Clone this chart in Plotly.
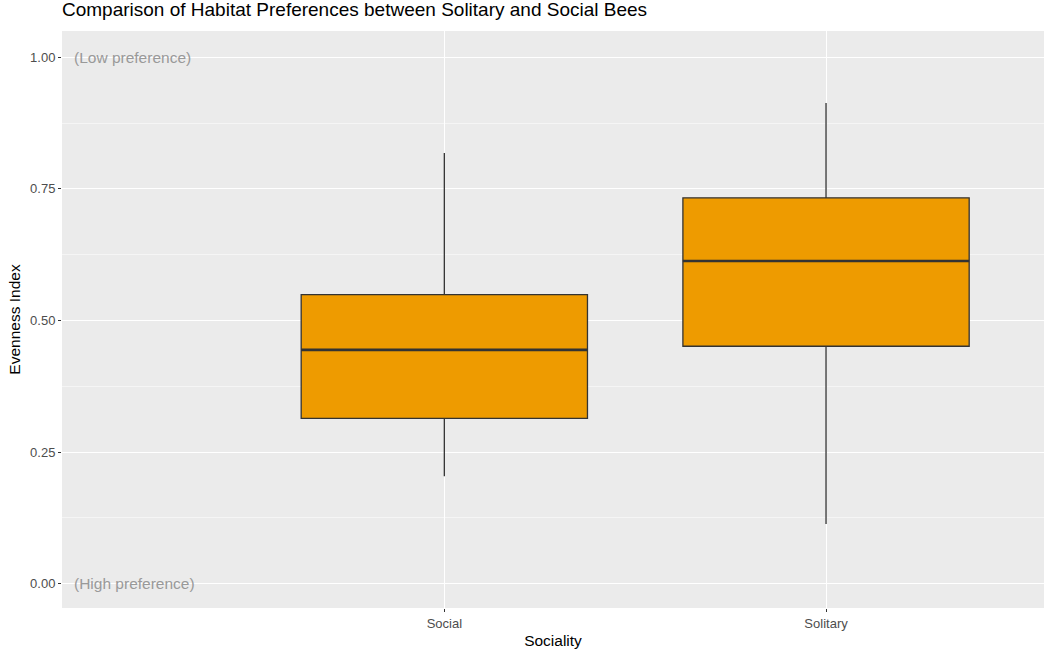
import plotly.graph_objects as go

# Summary statistics of the evenness index per sociality group
categories = ["Social", "Solitary"]
lower_whisker = [0.204, 0.113]
q1 = [0.314, 0.451]
median = [0.444, 0.613]
q3 = [0.549, 0.733]
upper_whisker = [0.818, 0.913]

note_top = "(Low preference)"
note_bottom = "(High preference)"
note_values = [1.0, 0.0]

y_ticks = [0.0, 0.25, 0.5, 0.75, 1.0]
y_tick_text = ["0.00", "0.25", "0.50", "0.75", "1.00"]

FILL = "#EE9B00"
EDGE = "#333333"
BOX_WIDTH = 0.75
FONT = "Arial, Liberation Sans, sans-serif"

fig = go.Figure()
fig.add_trace(go.Box(
    x=categories,
    q1=q1,
    median=median,
    q3=q3,
    lowerfence=lower_whisker,
    upperfence=upper_whisker,
    fillcolor=FILL,
    line=dict(color=EDGE, width=1.3),
    whiskerwidth=0,
    width=BOX_WIDTH,
    boxpoints=False,
    showlegend=False,
    hoverinfo="skip",
))

# thicker median bars, as drawn by ggplot's boxplot
for i, m in enumerate(median):
    fig.add_shape(
        type="line", xref="x", yref="y",
        x0=i - BOX_WIDTH / 2, x1=i + BOX_WIDTH / 2, y0=m, y1=m,
        line=dict(color=EDGE, width=2.6),
    )

# preference notes at the extremes of the scale
for text, val in zip([note_top, note_bottom], note_values):
    fig.add_annotation(
        x=-0.975, y=val, xref="x", yref="y",
        text=text, showarrow=False, xanchor="left", yanchor="middle",
        font=dict(family=FONT, size=15.5, color="#999999"),
    )

fig.update_layout(
    width=1044, height=655,
    margin=dict(l=62, r=0, t=31, b=47),
    paper_bgcolor="white",
    plot_bgcolor="#EBEBEB",
    font=dict(family=FONT),
    title=dict(
        text="Comparison of Habitat Preferences between Solitary and Social Bees",
        x=0, xref="paper", xanchor="left",
        y=1, yref="container", yanchor="top", pad=dict(t=3),
        font=dict(size=19, color="black"),
    ),
    xaxis=dict(
        type="category",
        categoryorder="array", categoryarray=categories,
        range=[-1.0016, 1.571],
        showgrid=True, gridcolor="white", gridwidth=1.2,
        zeroline=False, showline=False,
        ticks="outside", ticklen=3, tickcolor=EDGE,
        tickfont=dict(size=13, color="#4D4D4D"),
        title=dict(text="Sociality", font=dict(size=15.5, color="black"), standoff=5),
    ),
    yaxis=dict(
        range=[-0.0464, 1.05],
        tickvals=y_ticks, ticktext=y_tick_text,
        showgrid=True, gridcolor="white", gridwidth=1.2,
        minor=dict(dtick=0.125, tick0=0.125, showgrid=True, gridcolor="#F5F5F5", gridwidth=0.6),
        zeroline=False, showline=False,
        ticks="outside", ticklen=3, tickcolor=EDGE,
        tickfont=dict(size=13, color="#4D4D4D"),
        title=dict(text="Evenness Index", font=dict(size=15.5, color="black"), standoff=5),
    ),
)

fig.write_html("out.html")
